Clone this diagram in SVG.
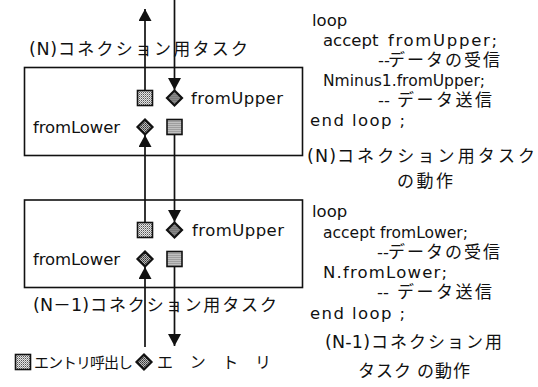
<svg xmlns="http://www.w3.org/2000/svg" width="538" height="387" viewBox="0 0 538 387">
  <style>
    .box { fill: none; stroke: #111; stroke-width: 1.6; }
    .lat { font-family: "DejaVu Sans", "Noto Sans CJK JP", sans-serif; font-size: 16.5px; fill: #111; }
    .par { font-family: "DejaVu Sans", "Noto Sans CJK JP", sans-serif; font-size: 17.5px; fill: #111; }
    .jp { font-family: "Noto Sans CJK JP", "DejaVu Sans", sans-serif; font-size: 17px; fill: #111; }
    .leg { font-family: "Noto Sans CJK JP", sans-serif; font-size: 15px; fill: #111; }
    .wire { fill: none; stroke: #111; stroke-width: 1.7; }
    .call { fill: url(#dots); stroke: #111; stroke-width: 1.6; }
    .entry { fill: url(#dense); stroke: #111; stroke-width: 2.2; }
  </style>
  <defs>
    <!-- halftone fills for entry-call squares and entry diamonds -->
    <pattern id="dots" width="2" height="2" patternUnits="userSpaceOnUse">
      <rect width="2" height="2" fill="#e6e6e6"/>
      <rect width="1" height="1" fill="#555"/>
      <rect x="1" y="1" width="1" height="1" fill="#999"/>
    </pattern>
    <pattern id="dense" width="2" height="2" patternUnits="userSpaceOnUse">
      <rect width="2" height="2" fill="#bbb"/>
      <rect width="1" height="1" fill="#333"/>
      <rect x="1" y="1" width="1" height="1" fill="#555"/>
    </pattern>
    <marker id="head" markerUnits="userSpaceOnUse" markerWidth="13" markerHeight="13" refX="12" refY="6.5" orient="auto">
      <path d="M0,0 L12,6.5 L0,13 z" fill="#111"/>
    </marker>
    <rect id="sq" x="-7.5" y="-7.5" width="15" height="15" class="call"/>
    <path id="dia" d="M0,-7.5 L7.5,0 L0,7.5 L-7.5,0 z" class="entry"/>
  </defs>

  <!-- message flow between the two connection tasks -->
  <g id="connectors">
    <line class="wire" x1="145" y1="90" x2="145" y2="9" marker-end="url(#head)"/>
    <line class="wire" x1="174.5" y1="0" x2="174.5" y2="90" marker-end="url(#head)"/>
    <line class="wire" x1="145" y1="222" x2="145" y2="135" marker-end="url(#head)"/>
    <line class="wire" x1="174.5" y1="135" x2="174.5" y2="222" marker-end="url(#head)"/>
    <line class="wire" x1="145" y1="347" x2="145" y2="267" marker-end="url(#head)"/>
    <line class="wire" x1="174.5" y1="267" x2="174.5" y2="346" marker-end="url(#head)"/>
  </g>

  <!-- (N) connection task -->
  <g id="task-n">
    <rect class="box" x="24.5" y="67.5" width="278" height="88"/>
    <text class="par" x="29" y="55" textLength="28" lengthAdjust="spacing">(N)</text>
    <text class="jp" x="58" y="55" textLength="190" lengthAdjust="spacing">コネクション用タスク</text>
    <use href="#sq" x="145" y="98"/>
    <use href="#dia" x="174.5" y="98"/>
    <text class="lat" x="191" y="104" textLength="92" lengthAdjust="spacing">fromUpper</text>
    <text class="lat" x="33" y="133" textLength="87" lengthAdjust="spacing">fromLower</text>
    <use href="#dia" x="145" y="127"/>
    <use href="#sq" x="174.5" y="127"/>
  </g>

  <!-- (N-1) connection task -->
  <g id="task-n1">
    <rect class="box" x="24.5" y="200" width="278" height="87.5"/>
    <text class="par" x="33" y="311" textLength="56" lengthAdjust="spacing">(N－1)</text>
    <text class="jp" x="90" y="311" textLength="187" lengthAdjust="spacing">コネクション用タスク</text>
    <use href="#sq" x="145" y="230"/>
    <use href="#dia" x="174.5" y="230"/>
    <text class="lat" x="192" y="236" textLength="92" lengthAdjust="spacing">fromUpper</text>
    <text class="lat" x="33" y="265" textLength="87" lengthAdjust="spacing">fromLower</text>
    <use href="#dia" x="145" y="259"/>
    <use href="#sq" x="174.5" y="259"/>
  </g>

  <!-- legend -->
  <g id="legend">
    <use href="#sq" x="23" y="362"/>
    <text class="leg" x="34" y="368" textLength="99" lengthAdjust="spacing">エントリ呼出し</text>
    <use href="#dia" x="144" y="362"/>
    <text class="leg" x="157" y="368" style="font-size:16px" textLength="114" lengthAdjust="spacing">エントリ</text>
  </g>

  <!-- behaviour of the (N) task -->
  <g id="code-n">
    <text class="lat" x="312" y="26">loop</text>
    <text class="lat" x="323" y="46">accept</text>
    <text class="lat" x="388" y="46" textLength="109" lengthAdjust="spacing">fromUpper;</text>
    <text class="lat" x="378" y="66">--</text>
    <text class="jp" x="388" y="66" textLength="112" lengthAdjust="spacing">データの受信</text>
    <text class="lat" x="323" y="86" textLength="162" lengthAdjust="spacingAndGlyphs">Nminus1.fromUpper;</text>
    <text class="lat" x="378" y="106">--</text>
    <text class="jp" x="397" y="106" textLength="95" lengthAdjust="spacing">データ送信</text>
    <text class="lat" x="310" y="126" textLength="95" lengthAdjust="spacing">end loop ;</text>
    <text class="par" x="307" y="162" textLength="29" lengthAdjust="spacing">(N)</text>
    <text class="jp" x="337" y="162" textLength="198" lengthAdjust="spacing">コネクション用タスク</text>
    <text class="jp" x="397" y="187" textLength="56" lengthAdjust="spacing">の動作</text>
  </g>

  <!-- behaviour of the (N-1) task -->
  <g id="code-n1">
    <text class="lat" x="312" y="217">loop</text>
    <text class="lat" x="323" y="238" textLength="145" lengthAdjust="spacingAndGlyphs">accept fromLower;</text>
    <text class="lat" x="377" y="258">--</text>
    <text class="jp" x="388" y="258" textLength="112" lengthAdjust="spacing">データの受信</text>
    <text class="lat" x="323" y="278" textLength="124" lengthAdjust="spacing">N.fromLower;</text>
    <text class="lat" x="377" y="298">--</text>
    <text class="jp" x="397" y="298" textLength="95" lengthAdjust="spacing">データ送信</text>
    <text class="lat" x="310" y="319" textLength="95" lengthAdjust="spacing">end loop ;</text>
    <text class="par" x="325" y="348" textLength="45" lengthAdjust="spacing">(N-1)</text>
    <text class="jp" x="371" y="348" textLength="131" lengthAdjust="spacing">コネクション用</text>
    <text class="jp" x="358" y="377" textLength="112" lengthAdjust="spacing">タスク の動作</text>
  </g>
</svg>
